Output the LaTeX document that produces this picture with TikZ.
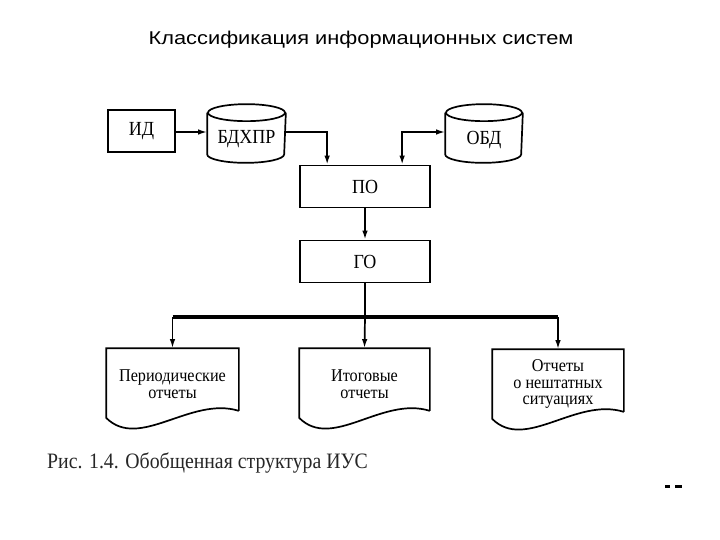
\documentclass[tikz,border=0pt]{standalone}
\usepackage{fontspec}
\setmainfont{Liberation Serif}
\newfontfamily\titlefont[FakeStretch=1.18]{Liberation Sans}
\newfontfamily\tnr[FakeStretch=0.9]{Liberation Serif}
\usetikzlibrary{arrows.meta,calc}
\begin{document}
\begin{tikzpicture}[x=1pt,y=-1pt,
  line width=1.7pt,
  arr/.style={-{Latex[length=9pt,width=5.5pt]}},
  darr/.style={{Latex[length=9pt,width=5.5pt]}-{Latex[length=9pt,width=5.5pt]}},
  bus/.style={line width=3.4pt},
  box/.style={draw,rectangle,inner sep=0pt,font=\tnr\fontsize{20}{22}\selectfont},
  hid/.style={rectangle,inner sep=0pt,align=center,font=\tnr\fontsize{20}{22}\selectfont},
  doctext/.style={rectangle,inner sep=0pt,align=center,font=\tnr\fontsize{18}{16.5}\selectfont},
]
\useasboundingbox (0,0) rectangle (720,540);
\node[font=\titlefont\fontsize{18.5}{20}\selectfont] (title) at (361,40) {Классификация информационных систем};

% boxes
\node[box,minimum width=67pt,minimum height=42pt] (id) at (141.5,131) {ИД};
\node[box,minimum width=130pt,minimum height=42pt] (po) at (365,186.5) {ПО};
\node[box,minimum width=130pt,minimum height=42pt] (go) at (365,261.5) {ГО};

% cylinders
\node[hid,minimum width=77pt,minimum height=57pt] (b) at (246.5,133.5) {};
\node[hid] (blabel) at (246.5,139) {БДХПР};
\node[hid,minimum width=76pt,minimum height=57pt] (o) at (484,133.5) {};
\node[hid] (olabel) at (484,140) {ОБД};
\draw ($(b.north west)+(0,8.5)$) -- ($(b.south west)+(0,-8.5)$) arc[start angle=180,end angle=360,x radius=38.5pt,y radius=8.5pt] -- ($(b.north east)+(0,8.5)$);
\draw ($(b.north)+(0,8.5)$) ellipse[x radius=38.5pt,y radius=8.5pt];
\draw ($(o.north west)+(0,8.5)$) -- ($(o.south west)+(0,-8.5)$) arc[start angle=180,end angle=360,x radius=38pt,y radius=8.5pt] -- ($(o.north east)+(0,8.5)$);
\draw ($(o.north)+(0,8.5)$) ellipse[x radius=38pt,y radius=8.5pt];

% documents
\node[rectangle,minimum width=131pt,minimum height=61pt] (d1) at (172.5,379.5) {};
\node[rectangle,minimum width=129pt,minimum height=61pt] (d2) at (364.5,379.5) {};
\node[rectangle,minimum width=130pt,minimum height=61pt] (d3) at (558,380.5) {};
\node[doctext] (t1) at (172.5,384) {Периодические\\отчеты};
\node[doctext] (t2) at (364.5,384) {Итоговые\\отчеты};
\node[doctext] (t3) at (558,384) {Отчеты\\о нештатных\\ситуациях};
\foreach \d in {d1,d2,d3}{
  \draw (\d.south east) -- (\d.north east) -- (\d.north west) -- ($(\d.south west)+(0,7)$)
    .. controls ($(\d.south west)+(33,40)$) and ($(\d.south east)+(-48,-15)$) .. (\d.south east);
}

% connectors
\draw[arr] (id.east |- 0,132) -- (b.west |- 0,132);
\draw[arr] (b.east |- 0,132) -| ($(po.north west)+(28,0)$);
\draw[darr] ($(po.north west)+(103,0)$) |- (o.west |- 0,132);
\draw[arr] (po.south) -- (go.north);
\coordinate (bm) at (365,317);
\draw (go.south) -- (bm);
\draw[bus] (d1.north |- bm) -- (d3.north |- bm);
\draw[arr] (d1.north |- bm) -- (d1.north);
\draw[arr] (bm) -- (d2.north);
\draw[arr] (d3.north |- bm) -- (d3.north);

% caption
\node[anchor=west,text=black!85,font=\tnr\fontsize{22}{24}\selectfont] (cap) at (43,463) {Рис. 1.4. Обобщенная структура ИУС};

% cut-off page number fragment
\fill (665,485) rectangle (670,487.5);
\fill (675,485) rectangle (682,487.5);
\end{tikzpicture}
\end{document}
